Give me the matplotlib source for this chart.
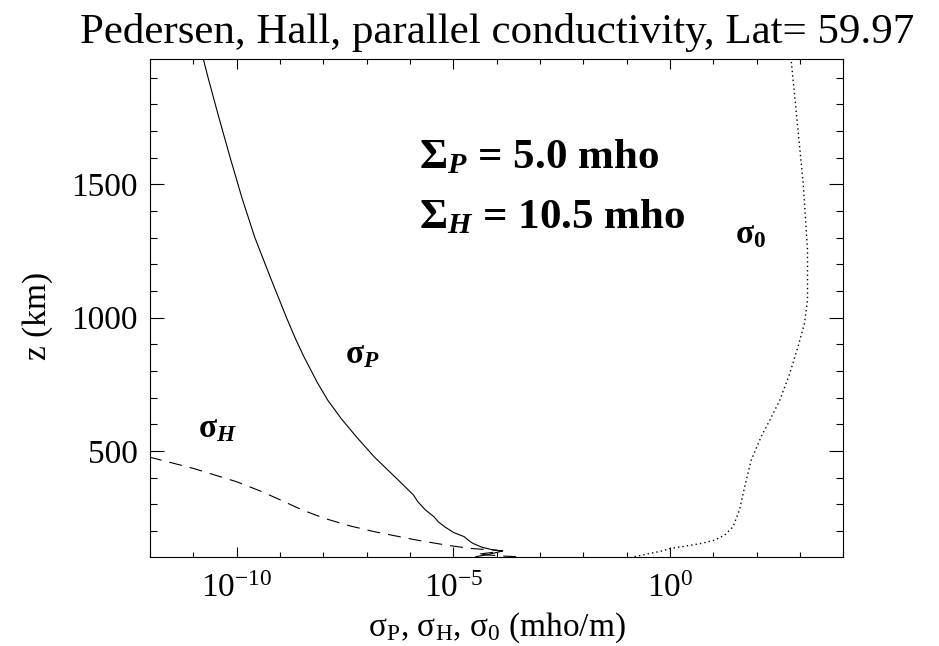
import numpy as np
import matplotlib
matplotlib.use("Agg")
import matplotlib.pyplot as plt
from matplotlib.ticker import FixedLocator, LogFormatterSciNotation, MultipleLocator, NullFormatter

plt.rcParams['font.family'] = ['Liberation Serif', 'DejaVu Serif']
plt.rcParams['mathtext.fontset'] = 'custom'
plt.rcParams['mathtext.rm'] = 'Liberation Serif'
plt.rcParams['mathtext.it'] = 'Liberation Serif:italic'
plt.rcParams['mathtext.bf'] = 'Liberation Serif:bold'
plt.rcParams['mathtext.bfit'] = 'Liberation Serif:italic:bold'
plt.rcParams['axes.unicode_minus'] = False

# ---- data (altitude km, log10 conductivity mho/m) ----
z_P = [104, 108, 112, 118, 125, 132, 140, 154, 165, 179, 195, 216, 235, 254, 280, 310, 335,
       380, 430, 479, 550, 620, 691, 760, 854, 920, 1000, 1150, 1300, 1450, 1600, 1750, 1900, 1970]
logsig_P = [-4.48, -4.35, -4.2, -4.05, -3.88, -4.15, -4.35, -4.55, -4.65, -4.75, -5.0, -5.2, -5.35,
            -5.45, -5.65, -5.82, -5.92, -6.2, -6.52, -6.83, -7.22, -7.58, -7.90, -8.15, -8.45,
            -8.64, -8.85, -9.22, -9.58, -9.88, -10.15, -10.41, -10.66, -10.77]

z_H = [104, 106, 113, 120, 126, 135, 145, 151, 165, 173, 198, 220, 248, 280, 316, 350, 385,
       435, 477, 520]
logsig_H = [-3.55, -3.8, -4.45, -4.1, -3.86, -4.6, -5.06, -5.29, -5.8, -6.06, -6.83, -7.4, -7.98,
            -8.5, -8.98, -9.45, -10.0, -11.0, -12.0, -13.0]

z_0 = [104, 115, 125, 135, 145, 154, 166, 185, 216, 279, 366, 466, 554, 616, 691, 791, 891,
       979, 1066, 1254, 1504, 1704, 1970]
logsig_0 = [-0.82, -0.5, -0.2, 0.02, 0.4, 0.72, 1.03, 1.26, 1.45, 1.60, 1.72, 1.87, 2.10, 2.30,
            2.53, 2.76, 2.95, 3.10, 3.17, 3.17, 3.07, 2.95, 2.79]

sigma_P = 10.0 ** np.array(logsig_P)
sigma_H = 10.0 ** np.array(logsig_H)
sigma_0 = 10.0 ** np.array(logsig_0)

title = "Pedersen, Hall, parallel conductivity, Lat= 59.97"
Sigma_P_val = 5.0
Sigma_H_val = 10.5

fig = plt.figure(figsize=(9.39, 6.46), dpi=100)
ax = fig.add_axes([150/939, 89.3/646, 693.5/939, 497.7/646])

lw = 0.8
ax.plot(sigma_P, z_P, color='black', lw=lw, linestyle='-')
ax.plot(sigma_H, z_H, color='black', lw=lw, linestyle=(0, (11.7, 7.2)))
ax.plot(sigma_0, z_0, color='black', lw=1.0, linestyle=(0, (1.0, 2.2)))

ax.set_xscale('log')
ax.set_xlim(1e-12, 1e4)
ax.set_ylim(104, 1970)

ax.xaxis.set_major_locator(FixedLocator([1e-10, 1e-5, 1e0]))
ax.xaxis.set_minor_locator(FixedLocator([10.0 ** k for k in range(-12, 5)]))
ax.xaxis.set_major_formatter(LogFormatterSciNotation())
ax.xaxis.set_minor_formatter(NullFormatter())
ax.yaxis.set_major_locator(MultipleLocator(500))
ax.yaxis.set_minor_locator(MultipleLocator(100))

tfs = 24
ax.tick_params(axis='both', which='both', direction='in', top=True, right=True,
               colors='black', width=0.8, labelsize=tfs)
ax.tick_params(axis='x', which='major', length=10*0.72, pad=12)
ax.tick_params(axis='x', which='minor', length=5*0.72)
ax.tick_params(axis='y', which='major', length=14*0.72, pad=9)
ax.tick_params(axis='y', which='minor', length=7*0.72)
for s in ax.spines.values():
    s.set_linewidth(0.8)

fig.text(497/939, 1 - 43/646, title, ha='center', va='baseline', fontsize=31)
fig.text(497/939, 1 - 636/646, r'σ$_{\mathrm{P}}$, σ$_{\mathrm{H}}$, σ$_{0}$ (mho/m)',
         ha='center', va='baseline', fontsize=tfs)
fig.text(38/939, 1 - 316/646, 'z (km)', ha='center', va='center', rotation=90, fontsize=tfs)

afs = 31
ax.text(419/939, 1 - 168/646, r'Σ$_{\mathbfit{P}}$ = %.1f mho' % Sigma_P_val,
        transform=fig.transFigure, fontsize=afs, fontweight='bold', va='baseline', ha='left')
ax.text(419/939, 1 - 228/646, r'Σ$_{\mathbfit{H}}$ = %.1f mho' % Sigma_H_val,
        transform=fig.transFigure, fontsize=afs, fontweight='bold', va='baseline', ha='left')

lfs = 24
ax.text(345/939, 1 - 363/646, r'σ$_{\mathbfit{P}}$', transform=fig.transFigure,
        fontsize=lfs, fontweight='bold', va='baseline', ha='left')
ax.text(198/939, 1 - 437/646, r'σ$_{\mathbfit{H}}$', transform=fig.transFigure,
        fontsize=lfs, fontweight='bold', va='baseline', ha='left')
ax.text(735/939, 1 - 243/646, r'σ$_{\mathbf{0}}$', transform=fig.transFigure,
        fontsize=lfs, fontweight='bold', va='baseline', ha='left')

fig.savefig('out.png', dpi=100)
